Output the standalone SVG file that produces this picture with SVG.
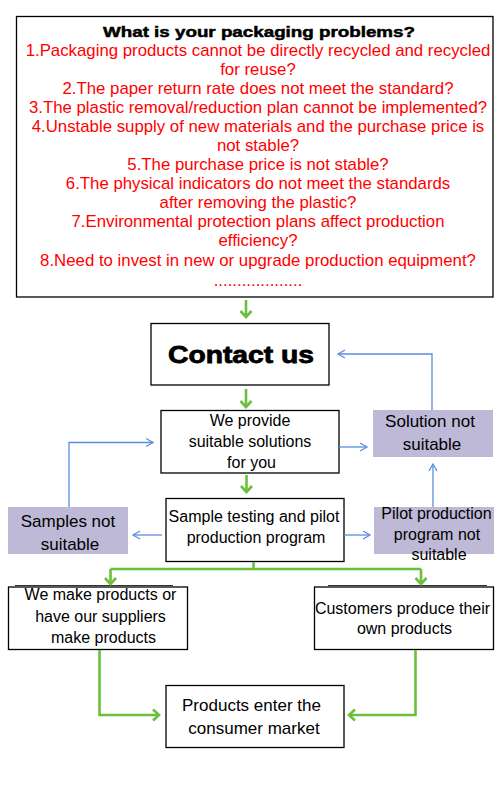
<svg xmlns="http://www.w3.org/2000/svg" width="500" height="800" viewBox="0 0 500 800">
<style>
.box{fill:#fff;stroke:#000;stroke-width:1.3}
.pbox{fill:#bdb9d7;stroke:none}
.t{font-family:"Liberation Sans",Arial,sans-serif;font-size:16px;fill:#000;text-anchor:middle}
.t17{font-size:17px}
.r{font-family:"Liberation Sans",Arial,sans-serif;font-size:16px;fill:#ff0000;text-anchor:middle}
.h{font-family:"Liberation Sans",Arial,sans-serif;font-weight:bold;fill:#000;text-anchor:middle;stroke:#000}
.g{fill:none;stroke:#6cbf3c;stroke-width:2.6}
.b{fill:none;stroke:#5b8ddc;stroke-width:1.3}
</style>
<defs>
<marker id="ga" markerUnits="userSpaceOnUse" markerWidth="14" markerHeight="14" refX="8" refY="7" orient="auto">
<path d="M2,1.5 L8,7 L2,12.5" fill="none" stroke="#6cbf3c" stroke-width="2.6"/>
</marker>
<marker id="ba" markerUnits="userSpaceOnUse" markerWidth="12" markerHeight="12" refX="9" refY="6" orient="auto">
<path d="M2,2 L9,6 L2,10" fill="none" stroke="#5b8ddc" stroke-width="1.3"/>
</marker>
</defs>
<rect width="500" height="800" fill="#fff"/>
<g id="problems">
<rect class="box" x="16.5" y="16.5" width="476.5" height="280.5"/>
<text class="h" x="259" y="36.5" style="font-size:15px" stroke-width="0.5" textLength="312" lengthAdjust="spacingAndGlyphs">What is your packaging problems?</text>
<g transform="translate(258,0) scale(1.05,1)">
<text class="r" x="0" y="56">1.Packaging products cannot be directly recycled and recycled</text>
<text class="r" x="0" y="75">for reuse?</text>
<text class="r" x="0" y="94.5">2.The paper return rate does not meet the standard?</text>
<text class="r" x="0" y="113.5">3.The plastic removal/reduction plan cannot be implemented?</text>
<text class="r" x="0" y="132.5">4.Unstable supply of new materials and the purchase price is</text>
<text class="r" x="0" y="151">not stable?</text>
<text class="r" x="0" y="170">5.The purchase price is not stable?</text>
<text class="r" x="0" y="189">6.The physical indicators do not meet the standards</text>
<text class="r" x="0" y="208">after removing the plastic?</text>
<text class="r" x="0" y="227.5">7.Environmental protection plans affect production</text>
<text class="r" x="0" y="246.5">efficiency?</text>
<text class="r" x="0" y="266">8.Need to invest in new or upgrade production equipment?</text>
<text class="r" x="0" y="286">...................</text>
</g>
</g>
<g id="contact">
<rect class="box" x="151" y="323.5" width="178" height="61.5"/>
<text class="h" x="241" y="363" style="font-size:24px" stroke-width="0.8" textLength="146" lengthAdjust="spacingAndGlyphs">Contact us</text>
</g>
<g id="provide">
<rect class="box" x="161" y="410.5" width="178" height="62.5"/>
<text class="t" x="250" y="426">We provide</text>
<text class="t" x="250" y="447">suitable solutions</text>
<text class="t" x="251.5" y="468">for you</text>
</g>
<g id="solution-not-suitable">
<rect class="pbox" x="373" y="410" width="120" height="47"/>
<text class="t t17" x="430" y="427">Solution not</text>
<text class="t t17" x="432" y="450">suitable</text>
</g>
<g id="sample">
<rect class="box" x="166" y="498.5" width="178" height="63"/>
<text class="t" x="254" y="521.5">Sample testing and pilot</text>
<text class="t" x="256" y="542.5">production program</text>
</g>
<g id="samples-not-suitable">
<rect class="pbox" x="8" y="507" width="120" height="47"/>
<text class="t t17" x="68" y="527">Samples not</text>
<text class="t t17" x="70" y="550">suitable</text>
</g>
<g id="pilot-not-suitable">
<rect class="pbox" x="374" y="507" width="120" height="47"/>
<text class="t" x="436.5" y="518.5">Pilot production</text>
<text class="t" x="437" y="539.5">program not</text>
<text class="t" x="439" y="560">suitable</text>
</g>
<g id="we-make">
<line x1="15" y1="585.5" x2="173" y2="585.5" stroke="#333" stroke-width="1"/>
<rect class="box" x="8.5" y="587" width="179" height="62.5"/>
<text class="t" x="100.5" y="600">We make products or</text>
<text class="t" x="100.5" y="621.5">have our suppliers</text>
<text class="t" x="103.5" y="642.5">make products</text>
</g>
<g id="customers">
<line x1="328" y1="585.5" x2="487" y2="585.5" stroke="#333" stroke-width="1"/>
<rect class="box" x="314.5" y="587" width="179" height="62.5"/>
<text class="t" x="402.5" y="613.5">Customers produce their</text>
<text class="t" x="404.5" y="634">own products</text>
</g>
<g id="market">
<rect class="box" x="166" y="685.5" width="178" height="62"/>
<text class="t t17" x="251.5" y="711">Products enter the</text>
<text class="t t17" x="254" y="734">consumer market</text>
</g>
<g id="connectors">
<path class="g" d="M246,300 V317" marker-end="url(#ga)"/>
<path class="g" d="M246,389 V407" marker-end="url(#ga)"/>
<path class="g" d="M246.5,475 V492" marker-end="url(#ga)"/>
<path class="g" d="M253.5,562 V569 M110.5,569 H421"/>
<path class="g" d="M110.5,569 V584" marker-end="url(#ga)"/>
<path class="g" d="M421,569 V584" marker-end="url(#ga)"/>
<path class="g" d="M99.5,650 V715 H159" marker-end="url(#ga)"/>
<path class="g" d="M415.5,650 V715 H349" marker-end="url(#ga)"/>
<path class="b" d="M339,447 H367" marker-end="url(#ba)"/>
<path class="b" d="M432,410 V354 H338" marker-end="url(#ba)"/>
<path class="b" d="M433,507 V464" marker-end="url(#ba)"/>
<path class="b" d="M162,535 H133" marker-end="url(#ba)"/>
<path class="b" d="M344,535 H370" marker-end="url(#ba)"/>
<path class="b" d="M69,507 V442.5 H153" marker-end="url(#ba)"/>
</g>
</svg>
